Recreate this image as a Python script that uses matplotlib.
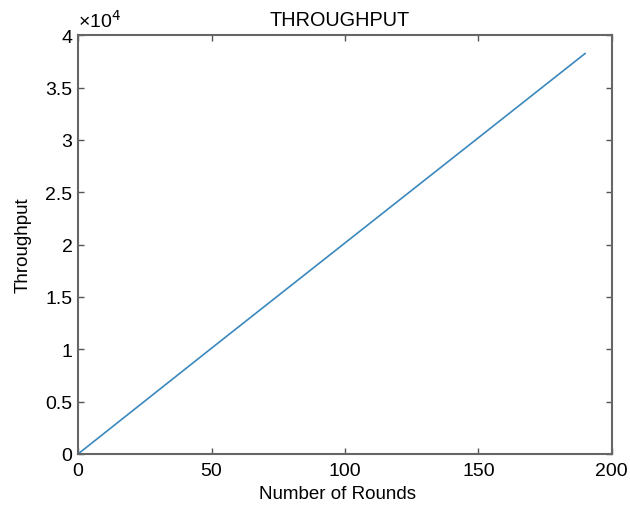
import matplotlib
matplotlib.use('Agg')
import matplotlib.pyplot as plt
from matplotlib.ticker import FuncFormatter

plt.rcParams['font.family'] = ['Liberation Sans', 'DejaVu Sans']

# values
rounds = [0, 50, 100, 150, 190]
throughput = [0, 10100, 20150, 30200, 38250]

xticks = [0, 50, 100, 150, 200]
yticks = [0, 5000, 10000, 15000, 20000, 25000, 30000, 35000, 40000]

fig = plt.figure(figsize=(6.3, 5.1), dpi=100)
ax = fig.add_axes([0.124, 0.108, 0.847, 0.821])

ax.plot(rounds, throughput, color='#3a88bd', lw=1.2)

ax.set_xlim(0, 200)
ax.set_ylim(0, 40000)
ax.set_xticks(xticks)
ax.set_yticks(yticks)
ax.yaxis.set_major_formatter(FuncFormatter(lambda v, p: '%g' % (v / 1e4)))

ax.tick_params(direction='in', top=True, right=True, labelsize=14, length=4,
               width=1, color='#555555')
ax.tick_params(axis='x', pad=6)
ax.tick_params(axis='y', pad=4)
for s in ax.spines.values():
	s.set_color('#666666')
	s.set_linewidth(1.5)

ax.text(0.0, 1.01, '×10$^{4}$', transform=ax.transAxes, fontsize=14,
        ha='left', va='bottom')
ax.set_title('THROUGHPUT', fontsize=14.3, pad=7, x=0.49)
ax.set_xlabel('Number of Rounds', fontsize=13.5, labelpad=5)
ax.xaxis.set_label_coords(0.487, -0.075)
ax.set_ylabel('Throughput', fontsize=13.5, labelpad=10)

fig.savefig('out.png', dpi=100)
